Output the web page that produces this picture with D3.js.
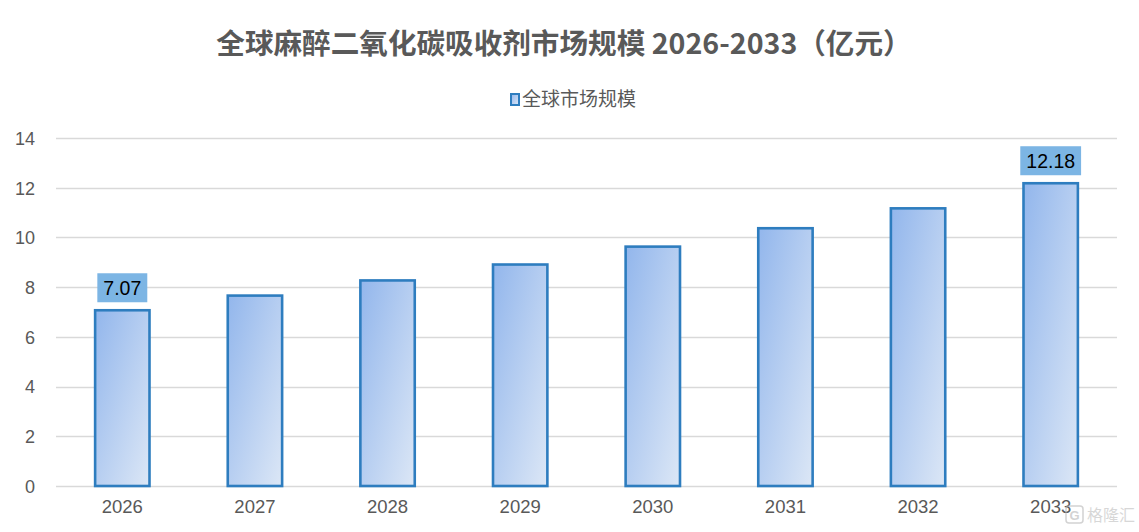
<!DOCTYPE html>
<html>
<head>
<meta charset="utf-8">
<script src="https://cdn.jsdelivr.net/npm/d3@7"></script>
<style>
  body { margin: 0; background: #fff; }
  svg { display: block; font-family: "Liberation Sans", Arial, "Noto Sans CJK SC", sans-serif; }
</style>
</head>
<body>
<svg id="chart" width="1139" height="532"></svg>
<script>
// données
var years = ["2026", "2027", "2028", "2029", "2030", "2031", "2032", "2033"];
var marche = [7.07, 7.66, 8.27, 8.91, 9.63, 10.37, 11.17, 12.18];
var yTicks = [0, 2, 4, 6, 8, 10, 12, 14];
var labelled = ["2026", "2033"]; // seules étiquettes visibles

var titre = "全球麻醉二氧化碳吸收剂市场规模 2026-2033（亿元）";
var legende = "全球市场规模";

var W = 1139, H = 532;
var margin = {top: 138, right: 22, bottom: 46, left: 56};
var plotW = W - margin.left - margin.right;
var plotH = H - margin.top - margin.bottom;

var svg = d3.select("#chart");

// dégradé des barres
var defs = svg.append("defs");
var grad = defs.append("linearGradient")
    .attr("id", "barGrad")
    .attr("x1", "0").attr("y1", "0")
    .attr("x2", "1").attr("y2", "1");
grad.append("stop").attr("offset", "0%").attr("stop-color", "#92b6ec");
grad.append("stop").attr("offset", "100%").attr("stop-color", "#dce7f6");

var x = d3.scaleBand()
    .domain(years)
    .range([0, plotW])
    .paddingInner(0.59)
    .paddingOuter(0.295);

var y = d3.scaleLinear()
    .domain([0, 14])
    .range([plotH, 0]);

var g = svg.append("g")
    .attr("transform", "translate(" + margin.left + "," + margin.top + ")");

// grille
g.append("g")
    .selectAll("line")
    .data(yTicks)
    .enter()
    .append("line")
    .attr("x1", 0)
    .attr("x2", plotW)
    .attr("y1", function(d){ return Math.round(y(d)) + 0.5; })
    .attr("y2", function(d){ return Math.round(y(d)) + 0.5; })
    .attr("stroke", "#d9d9d9")
    .attr("stroke-width", 1.6);

// axe Y
var yAxis = g.append("g")
    .call(d3.axisLeft(y).tickValues(yTicks).tickSize(0).tickPadding(21));
yAxis.select(".domain").remove();
yAxis.selectAll("text")
    .attr("fill", "#595959")
    .style("font-size", "18px")
    .attr("dy", "0.35em");

// axe X
var xAxis = g.append("g")
    .attr("transform", "translate(0," + plotH + ")")
    .call(d3.axisBottom(x).tickSize(0).tickPadding(14));
xAxis.select(".domain").remove();
xAxis.selectAll("text")
    .attr("fill", "#595959")
    .style("font-size", "18.5px");

// barres
g.selectAll("rect.bar")
    .data(marche)
    .enter()
    .append("rect")
    .attr("class", "bar")
    .attr("x", function(d, i){ return x(years[i]); })
    .attr("y", function(d){ return y(d); })
    .attr("width", x.bandwidth())
    .attr("height", function(d){ return plotH - y(d); })
    .attr("fill", "url(#barGrad)")
    .attr("stroke", "#2e7dbf")
    .attr("stroke-width", 2.6);

// étiquettes de données
var lab = g.selectAll("g.lab")
    .data(years.filter(function(yr){ return labelled.indexOf(yr) >= 0; }))
    .enter()
    .append("g")
    .attr("class", "lab")
    .attr("transform", function(yr){
        var v = marche[years.indexOf(yr)];
        return "translate(" + (x(yr) + x.bandwidth() / 2) + "," + (y(v) - 22) + ")";
    });

lab.append("text")
    .attr("text-anchor", "middle")
    .attr("dy", "0.35em")
    .attr("fill", "#000")
    .style("font-size", "19.5px")
    .text(function(yr){ return marche[years.indexOf(yr)].toFixed(2); });

lab.each(function(){
    var t = d3.select(this).select("text");
    var bb = t.node().getBBox();
    d3.select(this).insert("rect", "text")
        .attr("x", bb.x - 6)
        .attr("y", -15)
        .attr("width", bb.width + 12)
        .attr("height", 29)
        .attr("fill", "#7cb5e4");
});

// titre
svg.append("text")
    .attr("x", 564)
    .attr("y", 54)
    .attr("text-anchor", "middle")
    .attr("fill", "#595959")
    .style("font-size", "28.6px")
    .style("font-weight", "bold")
    .style("font-family", "'Noto Sans CJK SC', sans-serif")
    .text(titre);

// légende
var leg = svg.append("g").attr("transform", "translate(511,99)");
leg.append("rect")
    .attr("x", 0).attr("y", -5)
    .attr("width", 8).attr("height", 11)
    .attr("fill", "url(#barGrad)")
    .attr("stroke", "#2e7dbf")
    .attr("stroke-width", 2);
leg.append("text")
    .attr("x", 11)
    .attr("dy", "0.35em")
    .attr("fill", "#595959")
    .style("font-size", "19px")
    .style("font-family", "'Noto Sans CJK SC', sans-serif")
    .text(legende);

// filigrane
var wm = svg.append("g").attr("transform", "translate(1066,515)").attr("opacity", 0.55);
wm.append("rect")
    .attr("x", 0).attr("y", -9)
    .attr("width", 17).attr("height", 17)
    .attr("rx", 3)
    .attr("fill", "none")
    .attr("stroke", "#b0b0b0")
    .attr("stroke-width", 1.5);
wm.append("text")
    .attr("x", 8.5).attr("dy", "0.35em")
    .attr("text-anchor", "middle")
    .attr("fill", "#b0b0b0")
    .style("font-size", "13px")
    .style("font-weight", "bold")
    .text("G");
wm.append("text")
    .attr("x", 21).attr("dy", "0.35em")
    .attr("fill", "#b8b8b8")
    .style("font-size", "16px")
    .style("font-family", "'Noto Sans CJK SC', sans-serif")
    .text("格隆汇");
</script>
</body>
</html>
